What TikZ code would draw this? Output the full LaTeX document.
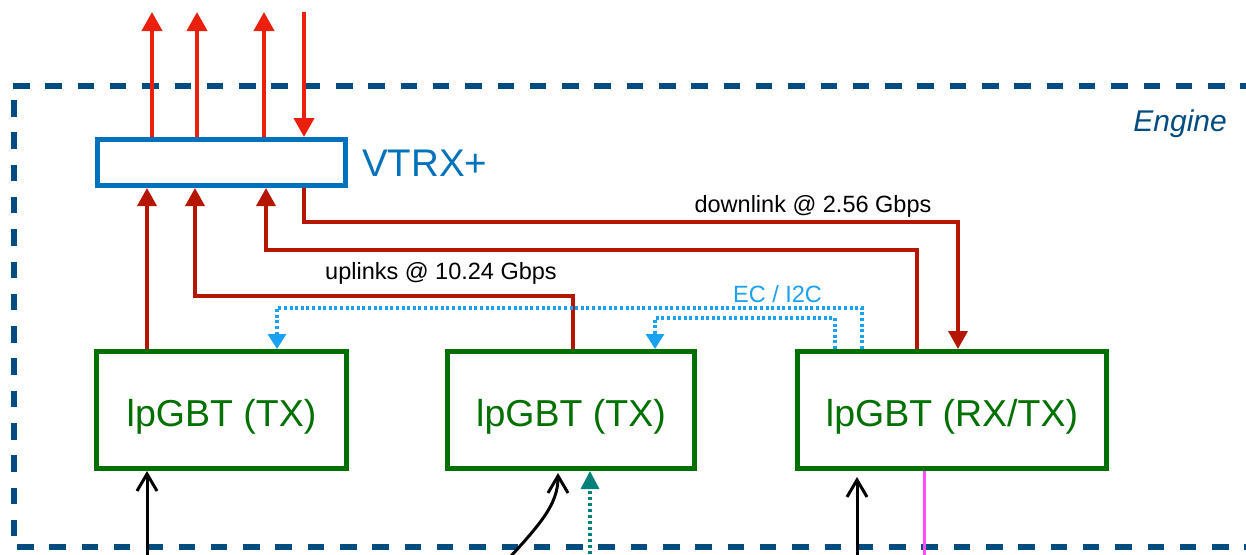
\documentclass[tikz,border=0pt]{standalone}
\usepackage{fontspec}
\setmainfont{Liberation Sans}
\usetikzlibrary{arrows.meta,calc}
\definecolor{brightred}{RGB}{235,32,12}
\definecolor{darkred}{RGB}{180,22,0}
\definecolor{vtrxblue}{RGB}{0,114,188}
\definecolor{gbtgreen}{RGB}{0,112,0}
\definecolor{ecblue}{RGB}{27,161,242}
\definecolor{tealc}{RGB}{0,128,122}
\definecolor{magc}{RGB}{255,77,255}
\definecolor{engblue}{RGB}{0,75,128}
\begin{document}
\begin{tikzpicture}[x=1pt,y=-1pt,
  border/.style={draw=engblue,line width=6.5pt,dash pattern=on 16.5pt off 15.8pt},
  vtrxbox/.style={draw=vtrxblue,line width=5pt,fill=white,inner sep=0pt},
  gbox/.style={draw=gbtgreen,line width=5pt,fill=white,inner sep=0pt,minimum height=117pt},
  gtext/.style={text=gbtgreen,font=\fontsize{37.5}{40}\selectfont,inner sep=0pt,anchor=base},
  lbl/.style={font=\fontsize{23.5}{26}\selectfont,inner sep=0pt,anchor=base},
  upout/.style={draw=brightred,line width=4pt,-{Triangle[length=19pt,width=20pt]}},
  downin/.style={draw=brightred,line width=4pt,-{Triangle[length=19pt,width=20pt]}},
  dred/.style={draw=darkred,line width=3.5pt,-{Triangle[length=18pt,width=19pt]}},
  ecline/.style={draw=ecblue,line width=3.2pt,dash pattern=on 3pt off 2.6pt,-{Triangle[length=15pt,width=18pt]}},
  blk/.style={draw=black,line width=3pt,-{Straight Barb[length=17pt,width=20pt]}},
  tealarrow/.style={draw=tealc,line width=3.2pt,dash pattern=on 3pt off 3pt,-{Triangle[length=18pt,width=18pt]}},
  magline/.style={draw=magc,line width=3pt}
]
\useasboundingbox (0,0) rectangle (1246,554);
\clip (0,0) rectangle (1246,554);

% Engine border
\draw[border] (13,86) -- (1260,86);
\draw[border] (14,100) -- (14,540);
\draw[border] (17,547) -- (1260,547);
\node[text=engblue,font=\fontsize{30}{32}\selectfont\itshape,inner sep=0pt,anchor=base east] (engine) at (1227,131) {Engine};

% nodes
\node[vtrxbox,minimum width=248pt,minimum height=46pt] (vtrx) at (221.5,162.5) {};
\node[text=vtrxblue,font=\fontsize{38.5}{40}\selectfont,inner sep=0pt,anchor=base west] (vtrxlabel) at (362,176) {VTRX+};

\node[gbox,minimum width=250pt] (tx1) at (221.5,410) {};
\node[gbox,minimum width=247pt] (tx2) at (571,410) {};
\node[gbox,minimum width=309pt] (rxtx) at (952,410) {};
\node[gtext] (tx1label) at (221.5,426) {lpGBT (TX)};
\node[gtext] (tx2label) at (571,426) {lpGBT (TX)};
\node[gtext] (rxtxlabel) at (952,426) {lpGBT (RX/TX)};

% free ends
\coordinate (o1) at (152,12);
\coordinate (o2) at (197,12);
\coordinate (o3) at (264,12);
\coordinate (i1) at (304,12);
\coordinate (b1) at (147,560);
\coordinate (b2) at (498,570);
\coordinate (b3) at (590,560);
\coordinate (b4) at (857,560);
\coordinate (b5) at (924,560);

% top optical arrows
\draw[upout] (152,0 |- vtrx.north) -- (o1);
\draw[upout] (197,0 |- vtrx.north) -- (o2);
\draw[upout] (264,0 |- vtrx.north) -- (o3);
\draw[downin] (i1) -- (304,0 |- vtrx.north);

% downlink
\draw[dred] (304,0 |- vtrx.south) |- (958,222) -- (958,0 |- rxtx.north);
\node[lbl] (dllabel) at (813,212) {downlink @ 2.56 Gbps};

% uplinks
\draw[dred] (147,0 |- tx1.north) -- (147,0 |- vtrx.south);
\draw[dred] (573,0 |- tx2.north) |- (195,296) -- (195,0 |- vtrx.south);
\draw[dred] (917,0 |- rxtx.north) |- (266,250) -- (266,0 |- vtrx.south);
\node[lbl] (ullabel) at (441,279) {uplinks @ 10.24 Gbps};

% EC / I2C
\draw[ecline] (862,0 |- rxtx.north) |- (277,308) -- (277,0 |- tx1.north);
\draw[ecline] (835,0 |- rxtx.north) |- (655,318) -- (655,0 |- tx2.north);
\node[lbl,text=ecblue] (eclabel) at (777.5,302) {EC / I2C};

% bottom inputs
\draw[blk] (b1) -- (147,0 |- tx1.south);
\draw[blk,shorten >=2pt] (b2) .. controls (540,525) and (558,505) .. (558,0 |- tx2.south);
\draw[tealarrow] (b3) -- (590,0 |- tx2.south);
\draw[blk,shorten >=6pt] (b4) -- (857,0 |- rxtx.south);
\draw[magline] (924,0 |- rxtx.south) -- (b5);
\end{tikzpicture}
\end{document}
